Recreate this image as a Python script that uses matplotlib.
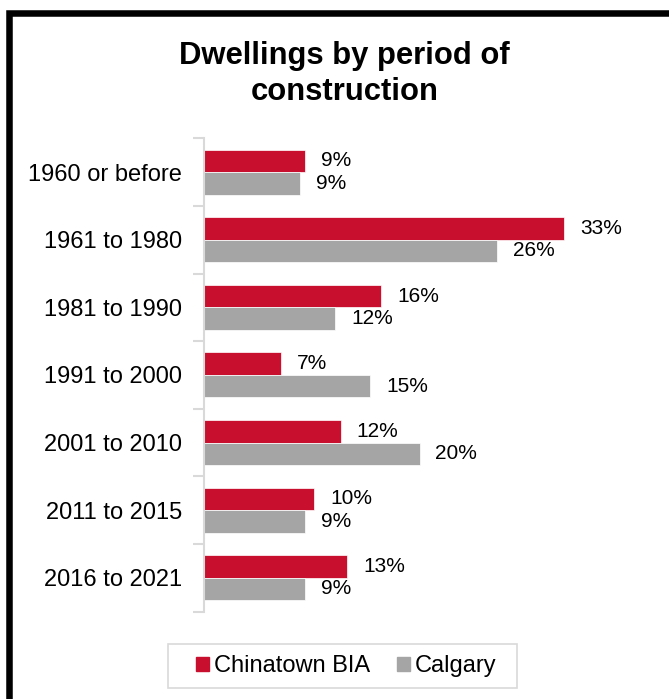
import matplotlib
matplotlib.use('Agg')
import matplotlib.pyplot as plt
from matplotlib.patches import Patch, Rectangle
import numpy as np

# data
periods = ['1960 or before', '1961 to 1980', '1981 to 1990', '1991 to 2000',
           '2001 to 2010', '2011 to 2015', '2016 to 2021']
chinatown = [9.2, 32.9, 16.2, 7.0, 12.5, 10.05, 13.1]
calgary = [8.8, 26.75, 12.0, 15.2, 19.7, 9.2, 9.2]
chinatown_labels = ['9%', '33%', '16%', '7%', '12%', '10%', '13%']
calgary_labels = ['9%', '26%', '12%', '15%', '20%', '9%', '9%']
series_names = ['Chinatown BIA', 'Calgary']

RED = '#C8102E'
GREY = '#A5A5A5'
AXIS_GREY = '#D9D9D9'

plt.rcParams['font.family'] = ['Liberation Sans', 'DejaVu Sans']

W, H = 669, 699
fig = plt.figure(figsize=(W / 100, H / 100), dpi=100)


def px_box(x0, y0, x1, y1):
    # pixel box (top-left origin) -> figure fraction [left, bottom, width, height]
    return [x0 / W, 1 - y1 / H, (x1 - x0) / W, (y1 - y0) / H]


ax = fig.add_axes(px_box(204, 138.3, 204 + 35 * 10.94, 611.5))

y = np.arange(len(periods))
bh = 0.333
ax.barh(y - bh / 2, chinatown, height=bh, color=RED, edgecolor='white', linewidth=0.5)
ax.barh(y + bh / 2, calgary, height=bh, color=GREY, edgecolor='white', linewidth=0.5)

for yi, v, lab in zip(y - bh / 2, chinatown, chinatown_labels):
    ax.annotate(lab, (v, yi), xytext=(11.5, 0), textcoords='offset points',
                va='center', ha='left', fontsize=15, annotation_clip=False)
for yi, v, lab in zip(y + bh / 2, calgary, calgary_labels):
    ax.annotate(lab, (v, yi), xytext=(11.5, 0), textcoords='offset points',
                va='center', ha='left', fontsize=15, annotation_clip=False)

ax.set_xlim(0, 35)
ax.set_ylim(len(periods) - 0.5, -0.5)
ax.set_xticks([])
ax.set_yticks(np.arange(-0.5, len(periods)), labels=[])
ax.set_yticks(y, labels=periods, minor=True)
ax.tick_params(axis='y', which='major', length=8, width=1.5, color=AXIS_GREY, direction='out')
ax.tick_params(axis='y', which='minor', length=0, pad=16, labelsize=17)
for side in ['top', 'right', 'bottom']:
    ax.spines[side].set_visible(False)
ax.spines['left'].set_color(AXIS_GREY)
ax.spines['left'].set_linewidth(1.5)

# baseline alignment of a two-line text anchors the last line
fig.text(344.7 / W, 1 - 100 / H, 'Dwellings by period of\nconstruction', ha='center', va='baseline',
         fontsize=22.3, fontweight='bold', linespacing=1.26)

handles = [Patch(color=RED), Patch(color=GREY)]
fig.legend(handles, series_names, loc='center', bbox_to_anchor=(346.5 / W, 1 - 666 / H),
           ncol=2, frameon=False, fontsize=17, handlelength=0.55, handleheight=0.55,
           handletextpad=0.2, columnspacing=1.15)

fig.patches.append(Rectangle((168.3 / W, 1 - 688.3 / H), (516.7 - 168.3) / W, 44 / H,
                             transform=fig.transFigure, fill=False, edgecolor=AXIS_GREY, linewidth=1.2))

# black outer frame, cut off on the right and bottom
fig.patches.append(Rectangle((9.3 / W, -0.1), 1.2, 1 - 12.5 / H + 0.1,
                             transform=fig.transFigure, fill=False, edgecolor='black', linewidth=4.7))

fig.savefig('out.png', dpi=100)
